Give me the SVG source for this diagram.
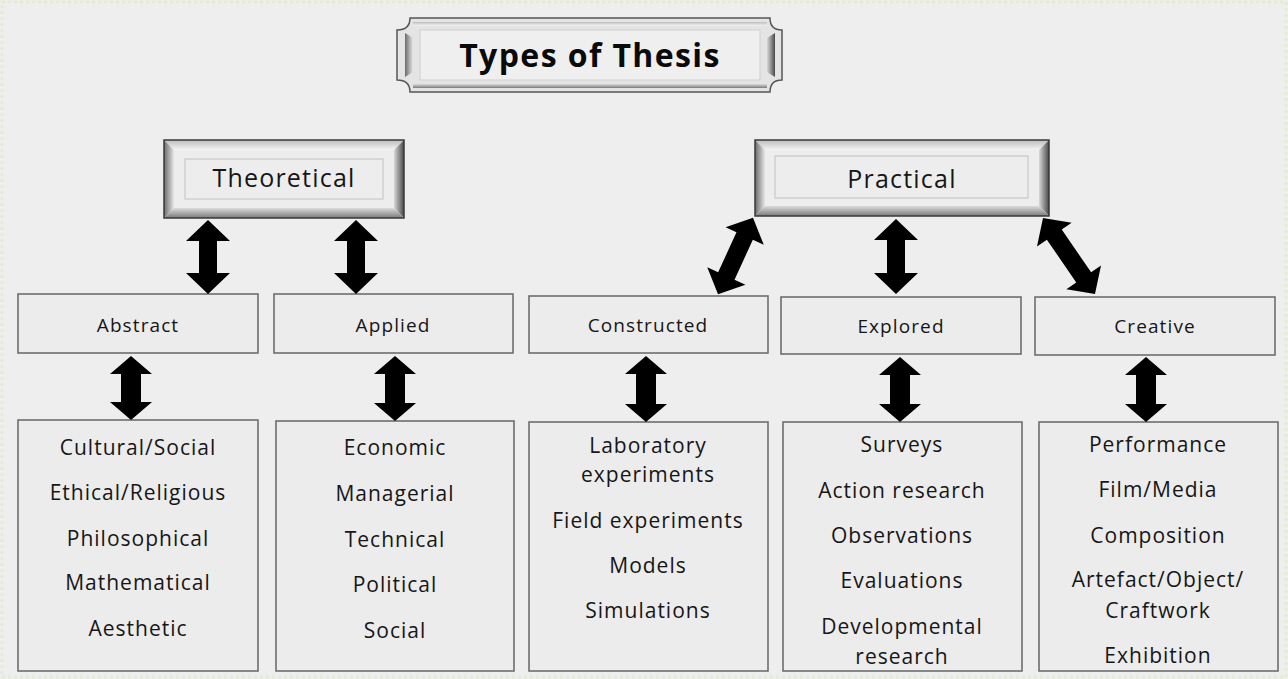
<svg xmlns="http://www.w3.org/2000/svg" width="1288" height="679" viewBox="0 0 1288 679">
<defs>
<linearGradient id="gL" x1="0" y1="0" x2="1" y2="0"><stop offset="0" stop-color="#6a6a6a"/><stop offset="1" stop-color="#e6e6e6"/></linearGradient>
<linearGradient id="gR" x1="0" y1="0" x2="1" y2="0"><stop offset="0" stop-color="#d8d8d8"/><stop offset="1" stop-color="#4a4a4a"/></linearGradient>
<linearGradient id="gT" x1="0" y1="0" x2="0" y2="1"><stop offset="0" stop-color="#bdbdbd"/><stop offset="1" stop-color="#f4f4f4"/></linearGradient>
<linearGradient id="gB" x1="0" y1="0" x2="0" y2="1"><stop offset="0" stop-color="#dcdcdc"/><stop offset="1" stop-color="#7a7a7a"/></linearGradient>
</defs>
<style>
text{font-family:"Open Sans","Liberation Sans",sans-serif;fill:#161616;text-anchor:middle}
.box{fill:#ececec;stroke:#6e6e6e;stroke-width:1.6}
.face{fill:#ededed}
.inner{fill:none;stroke:#c8c8c8;stroke-width:1.2}
.outer{fill:none;stroke:#3a3a3a;stroke-width:1.5}
.mid{font-size:19px;letter-spacing:1.1px}
.lst{font-size:21px;letter-spacing:1px}
.hdr{font-size:25px;letter-spacing:1.2px}
.arr{fill:#000}
</style>
<rect x="0" y="0" width="1288" height="679" fill="#eeeeee"/>
<rect x="2" y="2" width="1284" height="675" fill="none" stroke="#e3ebd2" stroke-width="3" stroke-dasharray="3 3"/>

<g id="title">
<path d="M410,18 H770 Q770,30 782,30 V80 Q770,80 770,92 H410 Q410,80 397,80 V30 Q410,30 410,18 Z" fill="#e4e4e4" stroke="#555" stroke-width="1.5"/>
<path d="M405,33 L413,38 V72 L405,77 Z" fill="url(#gL)"/>
<path d="M775,33 L767,38 V72 L775,77 Z" fill="url(#gR)"/>
<path d="M413,84 H767 V88 H413 Z" fill="url(#gB)"/>
<path d="M413,22 H767 V26 H413 Z" fill="url(#gT)"/>
<rect x="420" y="30" width="340" height="50" fill="#efefef" stroke="#cfcfcf" stroke-width="1"/>
<text x="590" y="67" style="font-size:32px;font-weight:bold;letter-spacing:1.4px;fill:#0a0a0a">Types of Thesis</text>
</g>

<g id="theoretical">
<rect x="164" y="140" width="240" height="78" class="face"/>
<polygon points="164,140 404,140 394,150 174,150" fill="url(#gT)"/>
<polygon points="164,140 174,150 174,208 164,218" fill="url(#gL)"/>
<polygon points="404,140 404,218 394,208 394,150" fill="url(#gR)"/>
<polygon points="164,218 404,218 394,208 174,208" fill="url(#gB)"/>
<rect x="185" y="159" width="198" height="40" class="inner"/>
<rect x="164" y="140" width="240" height="78" class="outer"/>
<text x="284" y="187" class="hdr">Theoretical</text>
</g>

<g id="practical">
<rect x="755" y="140" width="294" height="76" class="face"/>
<polygon points="755,140 1049,140 1039,150 765,150" fill="url(#gT)"/>
<polygon points="755,140 765,150 765,206 755,216" fill="url(#gL)"/>
<polygon points="1049,140 1049,216 1039,206 1039,150" fill="url(#gR)"/>
<polygon points="755,216 1049,216 1039,206 765,206" fill="url(#gB)"/>
<rect x="775" y="156" width="253" height="42" class="inner"/>
<rect x="755" y="140" width="294" height="76" class="outer"/>
<text x="902" y="188" class="hdr">Practical</text>
</g>

<g id="abstract"><rect x="18" y="294" width="240" height="59" class="box"/><text x="138" y="332" class="mid">Abstract</text></g>
<g id="applied"><rect x="274" y="294" width="239" height="59" class="box"/><text x="393" y="332" class="mid">Applied</text></g>
<g id="constructed"><rect x="529" y="296" width="239" height="57" class="box"/><text x="648" y="332" class="mid">Constructed</text></g>
<g id="explored"><rect x="781" y="297" width="240" height="57" class="box"/><text x="901" y="333" class="mid">Explored</text></g>
<g id="creative"><rect x="1035" y="297" width="240" height="58" class="box"/><text x="1155" y="333" class="mid">Creative</text></g>

<g id="abstract-list"><rect x="18" y="420" width="240" height="251" class="box"/>
<text x="138" y="455" class="lst">Cultural/Social</text>
<text x="138" y="500" class="lst">Ethical/Religious</text>
<text x="138" y="546" class="lst">Philosophical</text>
<text x="138" y="590" class="lst">Mathematical</text>
<text x="138" y="636" class="lst">Aesthetic</text></g>

<g id="applied-list"><rect x="276" y="421" width="238" height="250" class="box"/>
<text x="395" y="455" class="lst">Economic</text>
<text x="395" y="501" class="lst">Managerial</text>
<text x="395" y="547" class="lst">Technical</text>
<text x="395" y="592" class="lst">Political</text>
<text x="395" y="638" class="lst">Social</text></g>

<g id="constructed-list"><rect x="529" y="422" width="239" height="249" class="box"/>
<text x="648" y="453" class="lst">Laboratory</text>
<text x="648" y="482" class="lst">experiments</text>
<text x="648" y="528" class="lst">Field experiments</text>
<text x="648" y="573" class="lst">Models</text>
<text x="648" y="618" class="lst">Simulations</text></g>

<g id="explored-list"><rect x="783" y="422" width="239" height="249" class="box"/>
<text x="902" y="452" class="lst">Surveys</text>
<text x="902" y="498" class="lst">Action research</text>
<text x="902" y="543" class="lst">Observations</text>
<text x="902" y="588" class="lst">Evaluations</text>
<text x="902" y="634" class="lst">Developmental</text>
<text x="902" y="664" class="lst">research</text></g>

<g id="creative-list"><rect x="1039" y="422" width="239" height="249" class="box"/>
<text x="1158" y="452" class="lst">Performance</text>
<text x="1158" y="497" class="lst">Film/Media</text>
<text x="1158" y="543" class="lst">Composition</text>
<text x="1158" y="587" class="lst">Artefact/Object/</text>
<text x="1158" y="618" class="lst">Craftwork</text>
<text x="1158" y="663" class="lst">Exhibition</text></g>

<g id="connectors" class="arr">
<path d="M208,220 L230,241 L217,241 L217,273 L230,273 L208,294 L186,273 L199,273 L199,241 L186,241 Z"/>
<path d="M356,220 L378,241 L365,241 L365,273 L378,273 L356,294 L334,273 L347,273 L347,241 L334,241 Z"/>
<path d="M896,219 L918,240 L905,240 L905,273 L918,273 L896,294 L874,273 L887,273 L887,240 L874,240 Z"/>
<path transform="translate(735.5,256) rotate(24.6)" d="M0,-42 L21,-22 L9,-22 L9,22 L21,22 L0,42 L-21,22 L-9,22 L-9,-22 L-21,-22 Z"/>
<path transform="translate(1069,256) rotate(-34.4)" d="M0,-46 L21,-26 L9,-26 L9,26 L21,26 L0,46 L-21,26 L-9,26 L-9,-26 L-21,-26 Z"/>
<path d="M131,356 L152,374 L141,374 L141,402 L152,402 L131,420 L110,402 L121,402 L121,374 L110,374 Z"/>
<path d="M395,356 L416,374 L405,374 L405,403 L416,403 L395,421 L374,403 L385,403 L385,374 L374,374 Z"/>
<path d="M646,356 L667,374 L656,374 L656,404 L667,404 L646,422 L625,404 L636,404 L636,374 L625,374 Z"/>
<path d="M900,357 L921,375 L910,375 L910,404 L921,404 L900,422 L879,404 L890,404 L890,375 L879,375 Z"/>
<path d="M1146,357 L1167,375 L1156,375 L1156,404 L1167,404 L1146,422 L1125,404 L1136,404 L1136,375 L1125,375 Z"/>
</g>
</svg>
